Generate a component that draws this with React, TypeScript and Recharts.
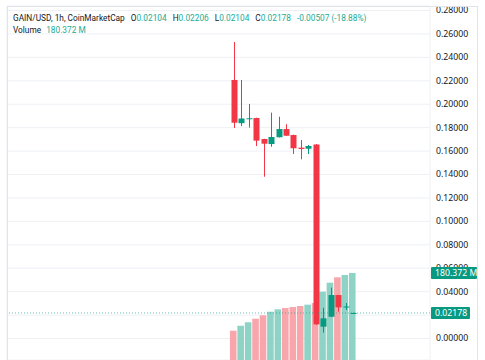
import { ComposedChart, Bar, Cell, XAxis, YAxis, CartesianGrid, ReferenceLine } from 'recharts'

const UP = '#089981', DOWN = '#F23645', UP_VOL = '#8ed3c6', DOWN_VOL = '#f8a6ab'
const TXT = '#131722', GRID = '#eef0f4', BORDER = '#e0e3eb', HDR_GREEN = '#22ab94'
const FONT = '"Noto Sans", "Open Sans", sans-serif'
const HDR_FONT = 'Roboto, "Noto Sans", sans-serif'

// hourly candles GAIN/USD
const OPEN  = [0.2207, 0.1838, 0.1872, 0.1882, 0.1703, 0.1660, 0.1718, 0.1788, 0.1737, 0.1629, 0.1620, 0.1656, 0.0101, 0.0186, 0.0371, 0.0269, 0.02104]
const HIGH  = [0.2531, 0.2207, 0.2002, 0.1885, 0.1705, 0.1928, 0.1893, 0.1829, 0.1740, 0.1695, 0.1652, 0.1660, 0.0263, 0.0434, 0.0373, 0.0303, 0.02206]
const LOW   = [0.1797, 0.1813, 0.1800, 0.1643, 0.1381, 0.1637, 0.1716, 0.1729, 0.1575, 0.1530, 0.1575, 0.0115, 0.0050, 0.0183, 0.0229, 0.0243, 0.02104]
const CLOSE = [0.1842, 0.1878, 0.1880, 0.1689, 0.1663, 0.1720, 0.1788, 0.1731, 0.1624, 0.1618, 0.1643, 0.0121, 0.0172, 0.0371, 0.0266, 0.0273, 0.02178]
// volume in millions
const VOLUME = [60.7, 71.1, 78.2, 85.6, 92.7, 100.1, 105.1, 107.8, 109.9, 112.0, 114.7, 118.2, 141.6, 160.3, 171.5, 176.2, 180.372]

const PRICE_TICKS = [0, 0.02, 0.04, 0.06, 0.08, 0.1, 0.12, 0.14, 0.16, 0.18, 0.2, 0.22, 0.24, 0.26, 0.28]
const TIME_TICKS = [0, 9, 21]
const LAST_PRICE = 0.02178
const LAST_VOL = 180.372
const PRICE_DOMAIN = [-0.018354, 0.28384]
const VOL_DOMAIN = [0, 733.9]
const X_DOMAIN = [-30.46, 26.39]

const data = OPEN.map((o, i) => ({ i, o, h: HIGH[i], l: LOW[i], c: CLOSE[i], v: VOLUME[i], range: [LOW[i], HIGH[i]] }))

const Candle = (p: any) => {
  const { x, width, payload } = p
  const y = Math.min(p.y, p.y + p.height), hgt = Math.abs(p.height)
  const { o, h, l, c } = payload
  const k = hgt / (h - l)
  const yo = y + (h - o) * k, yc = y + (h - c) * k
  const col = c >= o ? UP : DOWN
  const top = Math.min(yo, yc), bh = Math.max(1, Math.abs(yc - yo))
  const cx = Math.round(x + width / 2) + 0.5
  return (
    <g>
      <line x1={cx} x2={cx} y1={y} y2={y + hgt} stroke={col} strokeWidth={1} />
      <rect x={cx - 3} y={top} width={6} height={bh} fill={col} />
    </g>
  )
}

// label under the last-price tag is hidden, like on the source chart
const PriceTick = (p: any) => {
  const v = Number(p.payload.value)
  if (Math.abs(v - LAST_PRICE) < 0.005) return <g />
  return <text x={436} y={p.y} dy={3} fontSize={8.7} fill={TXT} fontFamily={FONT}>{v.toFixed(5)}</text>
}

const VolTag = (p: any) => (
  <g>
    <rect x={431} y={p.y - 6} width={46} height={12} fill={UP} rx={1} />
    <text x={435} y={p.y} dy={3} fontSize={8.7} fill="#fff" fontFamily={FONT}>{`${p.payload.value} M`}</text>
  </g>
)

const PriceTag = (p: any) => (
  <g>
    <rect x={431} y={p.y - 6} width={39} height={12} fill={UP} rx={1} />
    <text x={435} y={p.y} dy={3} fontSize={8.7} fill="#fff" fontFamily={FONT}>{Number(p.payload.value).toFixed(5)}</text>
  </g>
)

export default function App() {
  return (
    <div style={{ position: 'fixed', left: 0, top: 0, width: 485, height: 360, background: '#fff', overflow: 'hidden' }}>
      <ComposedChart width={485} height={360} data={data} margin={{ top: 6, right: 6, bottom: 0, left: 7 }}>
        <CartesianGrid stroke={GRID} xAxisId="x" yAxisId="price" />
        <XAxis xAxisId="x" dataKey="i" type="number" domain={X_DOMAIN} ticks={TIME_TICKS} allowDataOverflow height={0} tick={false} axisLine={false} tickLine={false} />
        <XAxis xAxisId="xv" dataKey="i" type="number" domain={X_DOMAIN} allowDataOverflow hide />
        <YAxis yAxisId="price" orientation="right" width={47} domain={PRICE_DOMAIN} ticks={PRICE_TICKS} interval={0} allowDataOverflow axisLine={false} tickLine={false} tick={<PriceTick />} />
        <YAxis yAxisId="vtag" orientation="right" width={1} domain={VOL_DOMAIN} ticks={[LAST_VOL]} interval={0} allowDataOverflow axisLine={false} tickLine={false} tick={<VolTag />} />
        <YAxis yAxisId="ptag" orientation="right" width={1} domain={PRICE_DOMAIN} ticks={[LAST_PRICE]} interval={0} allowDataOverflow axisLine={false} tickLine={false} tick={<PriceTag />} />
        <YAxis yAxisId="vol" domain={VOL_DOMAIN} allowDataOverflow hide />
        <Bar xAxisId="xv" yAxisId="vol" dataKey="v" barSize={6.6} isAnimationActive={false}>
          {data.map((d, i) => <Cell key={i} fill={d.c >= d.o ? UP_VOL : DOWN_VOL} />)}
        </Bar>
        <ReferenceLine xAxisId="x" yAxisId="price" y={LAST_PRICE} stroke={UP} strokeOpacity={0.6} strokeDasharray="1 2" />
        <Bar xAxisId="x" yAxisId="price" dataKey="range" barSize={6} shape={<Candle />} isAnimationActive={false} />
      </ComposedChart>
      <div style={{ position: 'absolute', left: 7, top: 6, width: 469, height: 360, borderLeft: `1px solid ${BORDER}`, borderTop: `1px solid ${BORDER}`, borderRight: `1px solid ${BORDER}`, pointerEvents: 'none' }} />
      <div style={{ position: 'absolute', left: 13, top: 12, fontFamily: HDR_FONT, fontSize: 8.3, lineHeight: '12px', color: TXT, whiteSpace: 'nowrap' }}>
        <div>
          GAIN/USD, 1h, CoinMarketCap
          <span style={{ marginLeft: 6 }}>O<span style={{ color: HDR_GREEN }}>0.02104</span></span>
          <span style={{ marginLeft: 6 }}>H<span style={{ color: HDR_GREEN }}>0.02206</span></span>
          <span style={{ marginLeft: 6 }}>L<span style={{ color: HDR_GREEN }}>0.02104</span></span>
          <span style={{ marginLeft: 6 }}>C<span style={{ color: HDR_GREEN }}>0.02178</span></span>
          <span style={{ marginLeft: 6, color: HDR_GREEN }}>-0.00507 (-18.88%)</span>
        </div>
        <div>Volume <span style={{ marginLeft: 3, color: HDR_GREEN }}>180.372 M</span></div>
      </div>
    </div>
  )
}
